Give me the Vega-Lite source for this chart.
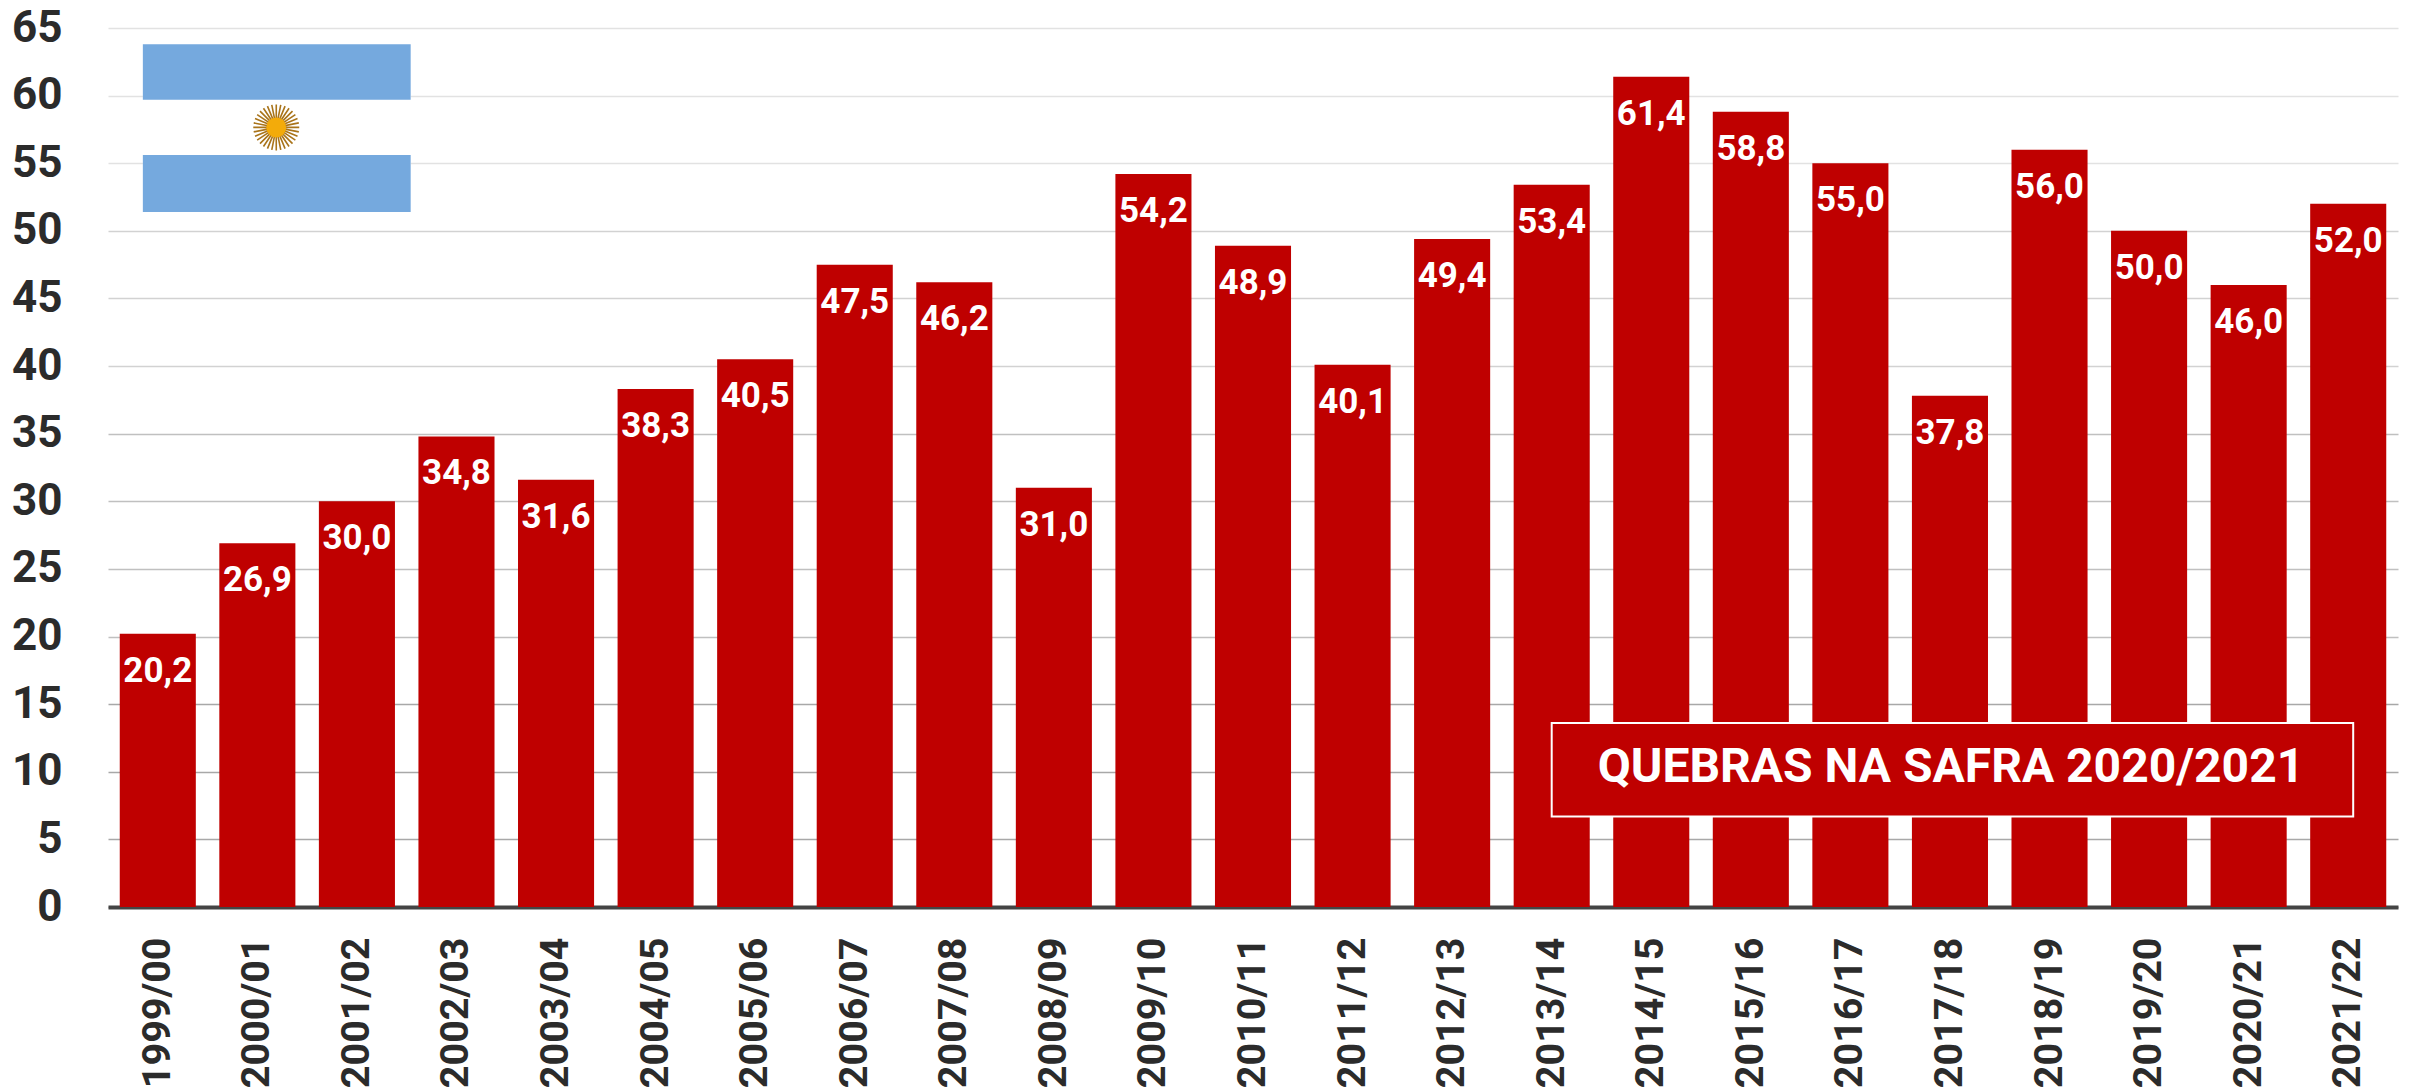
{
"$schema":"https://vega.github.io/schema/vega-lite/v6.json",
"width":2290,"height":879,
"autosize":{"type":"none"},
"padding":{"left":108,"top":28,"right":20,"bottom":185},
"background":"#ffffff",
"config":{"view":{"stroke":null},"font":"Roboto"},
"resolve":{"scale":{"x":"independent"}},
"layer":[
{"data":{"values":[
{"safra":"1999/00","valor":20.2,"rotulo":"20,2"},{"safra":"2000/01","valor":26.9,"rotulo":"26,9"},{"safra":"2001/02","valor":30.0,"rotulo":"30,0"},{"safra":"2002/03","valor":34.8,"rotulo":"34,8"},{"safra":"2003/04","valor":31.6,"rotulo":"31,6"},{"safra":"2004/05","valor":38.3,"rotulo":"38,3"},{"safra":"2005/06","valor":40.5,"rotulo":"40,5"},{"safra":"2006/07","valor":47.5,"rotulo":"47,5"},{"safra":"2007/08","valor":46.2,"rotulo":"46,2"},{"safra":"2008/09","valor":31.0,"rotulo":"31,0"},{"safra":"2009/10","valor":54.2,"rotulo":"54,2"},{"safra":"2010/11","valor":48.9,"rotulo":"48,9"},{"safra":"2011/12","valor":40.1,"rotulo":"40,1"},{"safra":"2012/13","valor":49.4,"rotulo":"49,4"},{"safra":"2013/14","valor":53.4,"rotulo":"53,4"},{"safra":"2014/15","valor":61.4,"rotulo":"61,4"},{"safra":"2015/16","valor":58.8,"rotulo":"58,8"},{"safra":"2016/17","valor":55.0,"rotulo":"55,0"},{"safra":"2017/18","valor":37.8,"rotulo":"37,8"},{"safra":"2018/19","valor":56.0,"rotulo":"56,0"},{"safra":"2019/20","valor":50.0,"rotulo":"50,0"},{"safra":"2020/21","valor":46.0,"rotulo":"46,0"},{"safra":"2021/22","valor":52.0,"rotulo":"52,0"}
]},
"encoding":{
"x":{"field":"safra","type":"ordinal","scale":{"paddingInner":0.236,"paddingOuter":0.118},"axis":{"title":null,"labelAngle":-90,"labelFont":"Roboto","labelFontWeight":"bold","labelFontSize":39.5,"labelColor":"#2b2b2b","labelPadding":30,"tickSize":0,"domainColor":"#444444","domainWidth":4,"labelAlign":"right","labelBaseline":"middle"}},
"y":{"field":"valor","type":"quantitative","scale":{"domain":[0,65],"nice":false},"axis":{"title":null,"values":[0,5,10,15,20,25,30,35,40,45,50,55,60,65],"labelFont":"Roboto","labelFontWeight":"bold","labelFontSize":44,"labelColor":"#2b2b2b","labelPadding":46,"tickSize":0,"domain":false,"grid":true,"gridWidth":1.5,"gridColor":{"expr":"datum.value>=55?'#e2e2e2':datum.value>=40?'#d2d2d2':datum.value>=20?'#c0c0c0':'#a8a8a8'"}}}
},
"layer":[
{"mark":{"type":"bar","color":"#bf0000"}},
{"mark":{"type":"text","color":"#ffffff","font":"Roboto","fontWeight":"bold","fontSize":35,"baseline":"top","dy":20},"encoding":{"text":{"field":"rotulo"}}}
]},
{"data":{"values":[{}]},"mark":{"type":"rect","color":"#ffffff"},"encoding":{"x":{"datum":0.35,"type":"quantitative","scale":{"domain":[0,23]},"axis":null},"x2":{"datum":3.04},"y":{"datum":63.8,"type":"quantitative"},"y2":{"datum":51.4}}},
{"data":{"values":[{}]},"mark":{"type":"rect","color":"#75a9de"},"encoding":{"x":{"datum":0.35,"type":"quantitative","scale":{"domain":[0,23]},"axis":null},"x2":{"datum":3.04},"y":{"datum":63.8,"type":"quantitative"},"y2":{"datum":59.7}}},
{"data":{"values":[{}]},"mark":{"type":"rect","color":"#75a9de"},"encoding":{"x":{"datum":0.35,"type":"quantitative","scale":{"domain":[0,23]},"axis":null},"x2":{"datum":3.04},"y":{"datum":55.6,"type":"quantitative"},"y2":{"datum":51.4}}},
{"data":{"values":[{}]},"mark":{"type":"point","filled":false,"stroke":"#a9741a","strokeWidth":1.6,"opacity":1,"size":2116,"shape":"M-1 0L1 0M-.981 -.195L.981 .195M-.924 -.383L.924 .383M-.831 -.556L.831 .556M-.707 -.707L.707 .707M-.556 -.831L.556 .831M-.383 -.924L.383 .924M-.195 -.981L.195 .981M0 -1L0 1M.195 -.981L-.195 .981M.383 -.924L-.383 .924M.556 -.831L-.556 .831M.707 -.707L-.707 .707M.831 -.556L-.831 .556M.924 -.383L-.924 .383M.981 -.195L-.981 .195"},"encoding":{"x":{"datum":1.69,"type":"quantitative","scale":{"domain":[0,23]},"axis":null},"y":{"datum":57.65,"type":"quantitative"}}},
{"data":{"values":[{}]},"mark":{"type":"point","filled":true,"color":"#f3ab0a","opacity":1,"size":400,"shape":"circle"},"encoding":{"x":{"datum":1.69,"type":"quantitative","scale":{"domain":[0,23]},"axis":null},"y":{"datum":57.65,"type":"quantitative"}}},
{"data":{"values":[{}]},"mark":{"type":"rect","color":"#bf0000","stroke":"#ffffff","strokeWidth":2},"encoding":{"x":{"datum":14.5,"type":"quantitative","scale":{"domain":[0,23]},"axis":null},"x2":{"datum":22.55},"y":{"datum":13.6,"type":"quantitative"},"y2":{"datum":6.7}}},
{"data":{"values":[{"t":"QUEBRAS NA SAFRA 2020/2021"}]},"mark":{"type":"text","color":"#ffffff","font":"Roboto","fontWeight":"bold","fontSize":48,"align":"center","baseline":"middle"},"encoding":{"text":{"field":"t"},"x":{"datum":18.51,"type":"quantitative","scale":{"domain":[0,23]},"axis":null},"y":{"datum":10.3,"type":"quantitative"}}}
]
}
